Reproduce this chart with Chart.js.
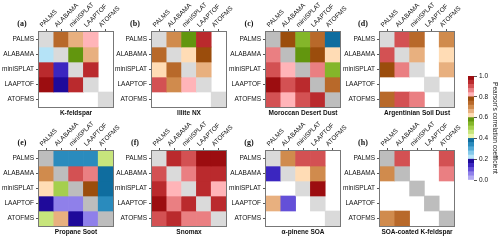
<!DOCTYPE html>
<html>
<head>
<meta charset="utf-8">
<script src="https://cdn.jsdelivr.net/npm/chart.js"></script>
<style>
  body { margin: 0; background: #fff; }
  #wrap { position: relative; width: 500px; height: 240px; overflow: hidden; }
  #wrap canvas { position: absolute; }
</style>
</head>
<body>
<div id="wrap"></div>
<script>
// instruments, used for both rows and columns
const instruments = ["PALMS", "ALABAMA", "miniSPLAT", "LAAPTOF", "ATOFMS"]
const panelLetters = ["(a)", "(b)", "(c)", "(d)", "(e)", "(f)", "(g)", "(h)"]
const panelTitles = ["K-feldspar", "Illite NX", "Moroccan Desert Dust", "Argentinian Soil Dust",
  "Propane Soot", "Snomax", "α-pinene SOA", "SOA-coated K-feldspar"]

// Pearson's r, rows x columns (null = no data, diagonal = 1)
const kFeldspar = [
  [1, 0.73, 0.65, 0.81, null],
  [0.21, 1, 0.57, 0.65, null],
  [0.93, 0.13, 1, 0.93, null],
  [0.97, 0.17, 0.93, 1, null],
  [null, null, null, null, 1],
]
const illiteNX = [
  [1, 0.69, 0.57, 0.93, null],
  [0.73, 1, 0.61, 0.77, null],
  [0.61, 0.73, 1, 0.65, null],
  [0.89, 0.69, 0.81, 1, null],
  [null, null, null, null, 1],
]
const moroccanDust = [
  [1, 0.77, 0.53, 0.73, 0.37],
  [0.85, 1, 0.57, 0.77, 0.61],
  [0.89, 0.81, 1, 0.85, 0.53],
  [0.97, 0.89, 0.93, 1, 0.73],
  [0.89, 0.81, 0.89, 0.93, 1],
]
const argentinianDust = [
  [1, 0.89, 0.73, null, 0.69],
  [0.89, 1, 0.65, null, 0.61],
  [0.77, 0.85, 1, null, 0.65],
  [null, null, null, 1, null],
  [0.73, 0.89, 0.85, null, 1],
]
const propaneSoot = [
  [1, 0.33, 0.33, 0.33, 0.45],
  [0.69, 1, 0.89, 0.85, 0.37],
  [0.61, 0.49, 1, 0.77, 0.37],
  [0.17, 0.05, 0.05, 1, 0.33],
  [0.45, 0.65, 0.17, 0.05, 1],
]
const snomax = [
  [1, 0.93, 0.89, 0.97, 0.97],
  [0.89, 1, 0.85, 0.93, 0.93],
  [0.93, 0.81, 1, 0.93, 0.81],
  [0.97, 0.85, 0.93, 1, 0.93],
  [0.89, 0.93, 0.85, 0.85, 1],
]
const pineneSOA = [
  [1, 0.69, 0.89, 0.89, null],
  [0.13, 1, 0.61, 0.69, null],
  [null, null, 1, 0.97, null],
  [0.65, 0.09, null, 1, null],
  [null, null, null, null, 1],
]
const soaKFeldspar = [
  [1, 0.89, null, null, 0.89],
  [0.69, 1, null, null, 0.85],
  [null, null, 1, null, null],
  [null, null, null, 1, null],
  [0.69, 0.73, null, null, 1],
]

// colour scale bands and ticks
const cbarLevels = [0, 0.04, 0.08, 0.12, 0.16, 0.2, 0.24, 0.28, 0.32, 0.36, 0.4, 0.44, 0.48, 0.52,
  0.56, 0.6, 0.64, 0.68, 0.72, 0.76, 0.8, 0.84, 0.88, 0.92, 0.96, 1.0]
const cbarTicks = [0, 0.2, 0.4, 0.6, 0.8, 1.0]

const palette = [
  "#b3abf2", "#8f80ea", "#6450d8", "#3b26c0", "#1f0a9a",
  "#b5e3f7", "#84c9ea", "#52a9d6", "#2a8bbd", "#0f6d9f",
  "#eaf5ad", "#c7e57c", "#a5cf4d", "#84b62a", "#62960e",
  "#ffdcb5", "#e8b07f", "#d08b4d", "#b8692a", "#9b4d0c",
  "#ffb4b8", "#ea7f82", "#d35153", "#ba2a2d", "#9c0d10",
]

const matrices = [kFeldspar, illiteNX, moroccanDust, argentinianDust,
  propaneSoot, snomax, pineneSOA, soaKFeldspar]
const diagShade = ["#dadada", "#dadada", "#bdbdbd", "#dadada", "#bdbdbd", "#dadada", "#dadada", "#bdbdbd"]
const boxLeft = [39, 152, 266, 380]
const boxTop = [32, 151]

const FONT = "'Liberation Sans', Arial, sans-serif"

function colorFor(v) {
  let i = 0
  while (i < palette.length - 1 && v >= cbarLevels[i + 1]) i++
  return palette[i]
}

const panelDecor = {
  id: "panelDecor",
  afterDraw(chart, args, opts) {
    const { ctx, chartArea: a } = chart
    ctx.save()
    ctx.strokeStyle = "#777"
    ctx.lineWidth = 1
    ctx.strokeRect(Math.round(a.left) - 0.5, Math.round(a.top) - 0.5,
      Math.round(a.right - a.left) + 1, Math.round(a.bottom - a.top) + 1)
    ctx.fillStyle = "#111"
    ctx.textAlign = "center"
    ctx.textBaseline = "middle"
    ctx.font = "bold 8px 'Liberation Serif', serif"
    ctx.fillText(opts.letter, a.left - 17, a.top - 8)
    ctx.font = "bold 6.5px " + FONT
    ctx.fillText(opts.title, (a.left + a.right) / 2, a.bottom + 6)
    ctx.restore()
  },
}

const wrap = document.getElementById("wrap")

function addCanvas(left, top, w, h) {
  const c = document.createElement("canvas")
  c.width = w
  c.height = h
  c.style.left = left + "px"
  c.style.top = top + "px"
  c.style.width = w + "px"
  c.style.height = h + "px"
  wrap.appendChild(c)
  return c
}

matrices.forEach((m, k) => {
  const left = boxLeft[k % 4]
  const top = boxTop[Math.floor(k / 4)]
  const canvas = addCanvas(left - 39, top - 32, 143, 121)

  new Chart(canvas, {
    type: "bar",
    data: {
      labels: instruments,
      datasets: m.map((row, r) => ({
        data: row.map((v) => (v === null ? null : [r, r + 1])),
        backgroundColor: row.map((v, c) => (v === null ? "#fff" : r === c ? diagShade[k] : colorFor(v))),
        borderWidth: 0,
        barPercentage: 1,
        categoryPercentage: 1,
      })),
    },
    options: {
      responsive: false,
      animation: false,
      events: [],
      layout: { padding: { left: 0, right: 30, top: 0, bottom: 14 } },
      plugins: {
        legend: { display: false },
        tooltip: { enabled: false },
        panelDecor: { letter: panelLetters[k], title: panelTitles[k] },
      },
      scales: {
        x: {
          position: "top",
          stacked: true,
          grid: { offset: false, drawOnChartArea: false, tickLength: 3, color: "#555" },
          border: { display: false },
          ticks: {
            font: { family: FONT, size: 6.5 },
            color: "#111",
            minRotation: 45,
            maxRotation: 45,
            autoSkip: false,
            padding: 0,
          },
          afterFit: (s) => { s.height = 32 },
        },
        y: {
          min: 0,
          max: 5,
          reverse: true,
          grid: { drawOnChartArea: false, tickLength: 3, color: "#555" },
          border: { display: false },
          ticks: {
            font: { family: FONT, size: 6.5 },
            color: "#111",
            padding: 2,
            callback: (v, i) => instruments[i],
          },
          afterBuildTicks: (s) => { s.ticks = instruments.map((_, i) => ({ value: i + 0.5 })) },
          afterFit: (s) => { s.width = 39 },
        },
      },
    },
    plugins: [panelDecor],
  })
})

// colour bar
const cbarCanvas = addCanvas(440, 66, 60, 124)
new Chart(cbarCanvas, {
  type: "bar",
  data: {
    labels: [""],
    datasets: palette.map((c, i) => ({
      data: [[cbarLevels[i], cbarLevels[i + 1]]],
      backgroundColor: c,
      borderWidth: 0,
      barPercentage: 1,
      categoryPercentage: 1,
    })),
  },
  options: {
    responsive: false,
    animation: false,
    events: [],
    layout: { padding: { left: 28, right: 0, top: 10, bottom: 10 } },
    plugins: { legend: { display: false }, tooltip: { enabled: false } },
    scales: {
      x: { display: false, stacked: true },
      y: {
        position: "right",
        min: 0,
        max: 1,
        grid: { drawOnChartArea: false, tickLength: 3, color: "#555" },
        border: { display: false },
        ticks: {
          font: { family: FONT, size: 6.5 },
          color: "#111",
          padding: 2,
          callback: (v) => v.toFixed(1),
        },
        afterBuildTicks: (s) => { s.ticks = cbarTicks.map((v) => ({ value: v })) },
        title: {
          display: true,
          text: "Pearson's correlation coefficient",
          font: { family: FONT, size: 6.5 },
          color: "#111",
          padding: 1,
        },
        afterFit: (s) => { s.width = 26 },
      },
    },
  },
})
</script>
</body>
</html>
